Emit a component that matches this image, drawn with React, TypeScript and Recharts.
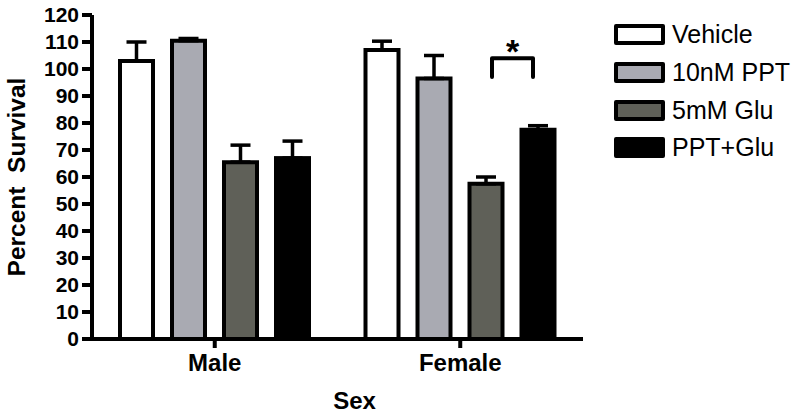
import { BarChart, Bar, XAxis, YAxis, ErrorBar, Legend, Label } from 'recharts';

const sexes = ['Male', 'Female'];
const vehicle = [103, 107];
const vehicleErr = [7, 3.3];
const ppt10nM = [110.5, 96.5];
const ppt10nMErr = [0.8, 8.5];
const glu5mM = [65.5, 57.5];
const glu5mMErr = [6.3, 2.5];
const pptGlu = [67, 77.5];
const pptGluErr = [6.3, 1.5];
const yTicks = [0, 10, 20, 30, 40, 50, 60, 70, 80, 90, 100, 110, 120];

// significance bracket between 5mM Glu and PPT+Glu (Female)
const sigSex = 'Female';
const sigLevel = 104;
const sigLegEnd = 97;
const sigStarLevel = 109;

const series = [
  { key: 'vehicle', name: 'Vehicle', fill: '#ffffff' },
  { key: 'ppt10nM', name: '10nM PPT', fill: '#a9aab2' },
  { key: 'glu5mM', name: '5mM Glu', fill: '#5f6058' },
  { key: 'pptGlu', name: 'PPT+Glu', fill: '#000000' },
];

const data = sexes.map((sex, i) => ({
  sex,
  vehicle: vehicle[i],
  vehicleErr: [0, vehicleErr[i]],
  ppt10nM: ppt10nM[i],
  ppt10nMErr: [0, ppt10nMErr[i]],
  glu5mM: glu5mM[i],
  glu5mMErr: [0, glu5mMErr[i]],
  pptGlu: pptGlu[i],
  pptGluErr: [0, pptGluErr[i]],
}));

const FONT = "'Liberation Sans', Arial, Helvetica, sans-serif";
const BAR_SIZE = 33;
const BAR_GAP = 19;

const SigBar = (props: any) => {
  const { x, y, width, height, fill, payload } = props;
  const rect = (
    <rect x={x} y={y} width={width} height={height} fill={fill} stroke="#000" strokeWidth={4} />
  );
  if (!payload || payload.sex !== sigSex) return rect;
  const pxPerUnit = height / payload.pptGlu;
  const base = y + height;
  const yOf = (v: number) => base - v * pxPerUnit;
  const stride = BAR_SIZE + BAR_GAP;
  const right = x + width / 2 - 5;
  const left = x - stride + width / 2 + 6;
  return (
    <g>
      {rect}
      <path
        d={`M${left},${yOf(sigLegEnd)} V${yOf(sigLevel)} H${right} V${yOf(sigLegEnd)}`}
        fill="none"
        stroke="#000"
        strokeWidth={4}
        strokeLinecap="round"
        strokeLinejoin="round"
      />
      <text
        x={(left + right) / 2}
        y={yOf(sigStarLevel)}
        textAnchor="middle"
        dominantBaseline="central"
        fontFamily={FONT}
        fontWeight="bold"
        fontSize={34}
        dy={6}
      >
        *
      </text>
    </g>
  );
};

const YLabel = (props: any) => {
  const vb = props.viewBox || {};
  const cx = 16;
  const cy = vb.y + vb.height / 2;
  return (
    <text
      x={cx}
      y={cy}
      transform={`rotate(-90, ${cx}, ${cy})`}
      textAnchor="middle"
      dominantBaseline="central"
      fontFamily={FONT}
      fontWeight="bold"
      fontSize={24.5}
      fill="#000"
      style={{ whiteSpace: 'pre' }}
    >
      {'Percent  Survival'}
    </text>
  );
};

const LegendBox = () => (
  <div style={{ width: 217, paddingLeft: 31, boxSizing: 'border-box', fontFamily: FONT }}>
    {series.map((s) => (
      <div key={s.key} style={{ display: 'flex', alignItems: 'center', height: 37.7 }}>
        <div
          style={{
            width: 51,
            height: 21,
            background: s.fill,
            border: '4px solid #000',
            borderRadius: 2,
            boxSizing: 'border-box',
          }}
        />
        <span style={{ marginLeft: 7, fontSize: 25, color: '#000', whiteSpace: 'nowrap' }}>{s.name}</span>
      </div>
    ))}
  </div>
);

export default function App() {
  return (
    <div style={{ position: 'absolute', left: 0, top: 0, background: '#fff' }}>
      <BarChart
        width={800}
        height={416}
        data={data}
        margin={{ top: 15, right: 0, bottom: 0, left: 0 }}
        barSize={BAR_SIZE}
        barGap={BAR_GAP}
      >
        <XAxis
          dataKey="sex"
          height={77}
          tickSize={9}
          tickMargin={6}
          axisLine={{ stroke: '#000', strokeWidth: 4 }}
          tickLine={{ stroke: '#000', strokeWidth: 4 }}
          tick={{ fill: '#000', fontSize: 24, fontWeight: 'bold', fontFamily: FONT }}
        >
          <Label
            value="Sex"
            position="insideBottom"
            offset={7}
            dx={17}
            style={{ fill: '#000', fontSize: 24, fontWeight: 'bold', fontFamily: FONT }}
          />
        </XAxis>
        <YAxis
          width={92}
          domain={[0, 120]}
          ticks={yTicks}
          interval={0}
          tickSize={10}
          tickMargin={3}
          axisLine={{ stroke: '#000', strokeWidth: 4 }}
          tickLine={{ stroke: '#000', strokeWidth: 4 }}
          tick={{ fill: '#000', fontSize: 21, fontWeight: 'bold', fontFamily: FONT }}
        >
          <Label content={<YLabel />} />
        </YAxis>
        <Legend
          layout="vertical"
          align="right"
          verticalAlign="top"
          wrapperStyle={{ top: 16, right: 0 }}
          content={<LegendBox />}
        />
        {series.map((s) => (
          <Bar
            key={s.key}
            dataKey={s.key}
            name={s.name}
            fill={s.fill}
            stroke="#000"
            strokeWidth={4}
            isAnimationActive={false}
            shape={s.key === 'pptGlu' ? <SigBar /> : undefined}
          >
            <ErrorBar dataKey={`${s.key}Err`} direction="y" width={10} stroke="#000" strokeWidth={3.5} />
          </Bar>
        ))}
      </BarChart>
    </div>
  );
}
